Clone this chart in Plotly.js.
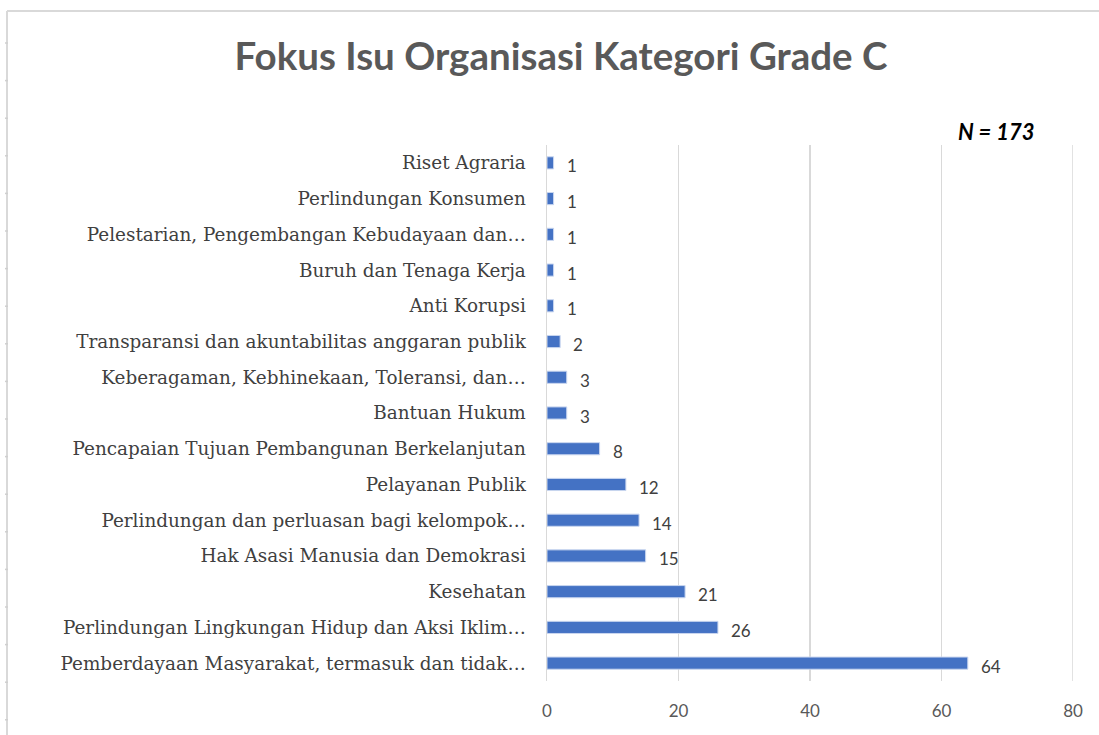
<!DOCTYPE html>
<html>
<head>
<meta charset="utf-8">
<script src="https://cdn.plot.ly/plotly-3.0.1.min.js"></script>
<style>
html,body{margin:0;padding:0;background:#fff;}
#chart{width:1099px;height:735px;}
</style>
</head>
<body>
<div id="chart"></div>
<script>
const categories = [
  "Pemberdayaan Masyarakat, termasuk dan tidak…",
  "Perlindungan Lingkungan Hidup dan Aksi Iklim…",
  "Kesehatan",
  "Hak Asasi Manusia dan Demokrasi",
  "Perlindungan dan perluasan bagi kelompok…",
  "Pelayanan Publik",
  "Pencapaian Tujuan Pembangunan Berkelanjutan",
  "Bantuan Hukum",
  "Keberagaman, Kebhinekaan, Toleransi, dan…",
  "Transparansi dan akuntabilitas anggaran publik",
  "Anti Korupsi",
  "Buruh dan Tenaga Kerja",
  "Pelestarian, Pengembangan Kebudayaan dan…",
  "Perlindungan Konsumen",
  "Riset Agraria"
];
const values = [64, 26, 21, 15, 14, 12, 8, 3, 3, 2, 1, 1, 1, 1, 1];
const xTicks = [0, 20, 40, 60, 80];
const titleText = "Fokus Isu Organisasi Kategori Grade C";
const noteText = "<b><i>N = 173</i></b>";

const W = 1099, H = 735;
const L = 547, R = 26, T = 145, B = 54;
const px = x => (x - L) / (W - L - R);
const py = y => 1 - (y - T) / (H - T - B);

const shapes = [
  {type:'line', xref:'paper', yref:'paper', x0:px(7), x1:px(1099), y0:py(11), y1:py(11), line:{color:'#d9d9d9', width:2}},
  {type:'line', xref:'paper', yref:'paper', x0:px(7), x1:px(7), y0:py(11), y1:py(735), line:{color:'#d9d9d9', width:2}},
  {type:'line', xref:'x', yref:'paper', x0:80, x1:80, y0:0, y1:1, line:{color:'#d9d9d9', width:1.5}}
];
for (let k = 0; k < 19; k++) {
  const yy = 43 + k * 37.6;
  shapes.push({type:'line', xref:'paper', yref:'paper', x0:px(5), x1:px(8), y0:py(yy), y1:py(yy), line:{color:'#cfcfcf', width:1.5}});
}

const trace = {
  type: 'bar',
  orientation: 'h',
  y: categories,
  x: values,
  width: 0.34,
  marker: {color: '#4472C4', line: {color: '#c9d6ef', width: 1}},
  hoverinfo: 'none'
};

const annotations = categories.map((c, i) => ({
  x: values[i], y: c, xref: 'x', yref: 'y', text: String(values[i]),
  xanchor: 'left', yanchor: 'middle', xshift: 11, yshift: -3, showarrow: false,
  font: {family: 'Lato, sans-serif', size: 17, color: '#404040'}
}));
annotations.push({text: noteText, xref: 'paper', yref: 'paper', x: px(996), y: py(131), xanchor: 'center', yanchor: 'middle', showarrow: false,
  font: {family: 'Lato, sans-serif', size: 22, color: '#000'}});

const layout = {
  width: W, height: H,
  margin: {l: L, r: R, t: T, b: B, pad: 0},
  paper_bgcolor: '#fff', plot_bgcolor: '#fff',
  showlegend: false,
  title: {text: '<b>' + titleText + '</b>', font: {family: 'Lato, sans-serif', size: 38.5, color: '#595959'},
          x: 561 / W, xanchor: 'center', y: 1 - 57 / H, yanchor: 'middle'},
  xaxis: {range: [0, 80], tickvals: xTicks, ticktext: xTicks.map(String), showgrid: true, gridcolor: '#d9d9d9', gridwidth: 1.5,
          zeroline: false, showline: false, ticks: '', ticklen: 0, ticklabelstandoff: 18,
          tickfont: {family: 'Lato, sans-serif', size: 17, color: '#595959'}, fixedrange: true},
  yaxis: {type: 'category', autorange: 'reversed', categoryorder: 'array', categoryarray: categories.slice().reverse(),
          showgrid: false, zeroline: false, showline: true, linecolor: '#d9d9d9', linewidth: 1.5, ticks: '', ticklabelstandoff: 16,
          tickfont: {family: '"DejaVu Serif", serif', size: 18.4, color: '#404040'}, fixedrange: true},
  bargap: 0.66,
  shapes: shapes,
  annotations: annotations
};

Plotly.newPlot('chart', [trace], layout, {displayModeBar: false, staticPlot: true});
</script>
</body>
</html>
